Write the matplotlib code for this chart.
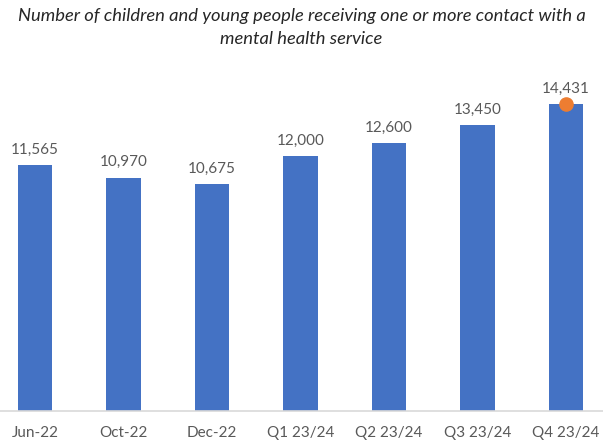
import matplotlib
matplotlib.use("Agg")
import matplotlib.pyplot as plt

categories = ["Jun-22", "Oct-22", "Dec-22", "Q1 23/24", "Q2 23/24", "Q3 23/24", "Q4 23/24"]
values = [11565, 10970, 10675, 12000, 12600, 13450, 14431]
labels = ["11,565", "10,970", "10,675", "12,000", "12,600", "13,450", "14,431"]
marker_index = 6

plt.rcParams['font.family'] = ['Lato', 'DejaVu Sans']

fig = plt.figure(figsize=(6.03, 4.45), dpi=100)
ax = fig.add_axes([0, 0.0764, 1, 0.77])
x = list(range(len(categories)))
ax.bar(x, values, width=0.39, color="#4472C4", zorder=2)
for xi, v, lab in zip(x, values, labels):
    ax.annotate(lab, (xi, v), xytext=(0, 6), textcoords="offset points",
                ha="center", va="bottom", fontsize=11, color="#595959")
ax.scatter([x[marker_index]], [values[marker_index]], s=90, color="#ED7D31", zorder=3, clip_on=False)

ax.set_xlim(-0.395, 6.418)
ax.set_ylim(0, 16110)
ax.set_yticks([])
ax.set_xticks(x)
ax.set_xticklabels(categories, fontsize=11, color="#595959")
ax.tick_params(axis="x", length=0, pad=11)
for s in ["top", "right", "left"]:
    ax.spines[s].set_visible(False)
ax.spines["bottom"].set_color("#D9D9D9")
ax.spines["bottom"].set_linewidth(1.2)

fig.text(0.5, 0.982, "Number of children and young people receiving one or more contact with a\nmental health service",
         ha="center", va="top", fontsize=13.2, style="italic", color="#262626", linespacing=1.55)

fig.savefig("out.png", dpi=100)
